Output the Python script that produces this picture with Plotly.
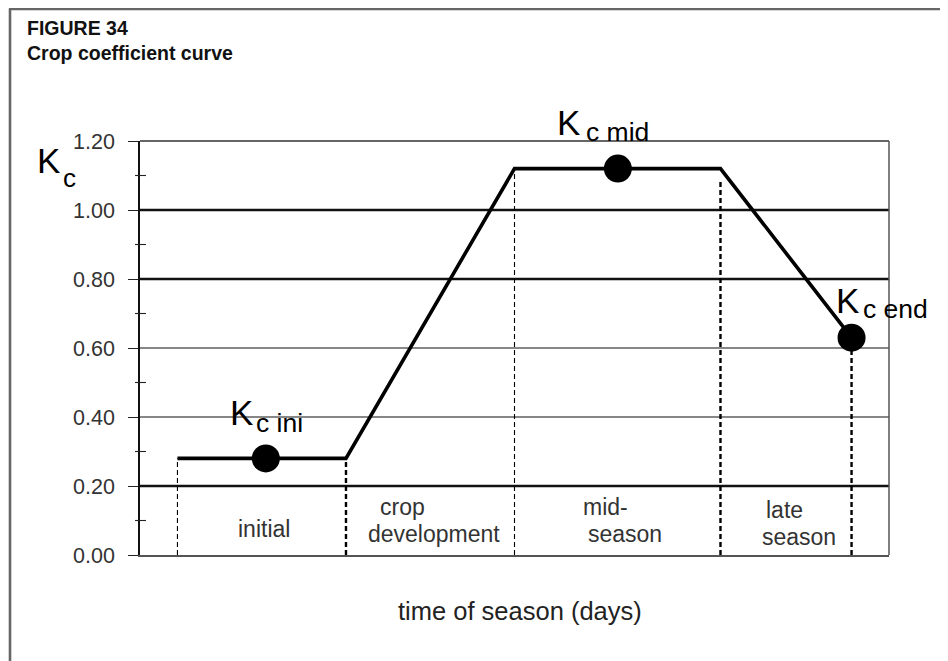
import plotly.graph_objects as go

# ---------------- data ----------------
stage_x = [5, 27.5, 50, 77.5, 95]            # days: start, end initial, end dev, end mid, end late
kc_curve = [0.28, 0.28, 1.12, 1.12, 0.63]     # Kc at those times
boundary_top = [0.28, 0.28, 1.12, 1.09, 0.63]  # top of dashed stage separators
boundary_heavy = [False, True, False, True, True]
point_x = [16.8, 63.8, 95]
point_kc = [0.28, 1.12, 0.63]
y_tickvals = [0.0, 0.2, 0.4, 0.6, 0.8, 1.0, 1.2]
y_ticktext = ["0.00", "0.20", "0.40", "0.60", "0.80", "1.00", "1.20"]
grid_y = [0.2, 0.4, 0.6, 0.8, 1.0]
grid_heavy = [True, False, False, True, True]
minor_y = [0.1, 0.3, 0.5, 0.7, 0.9, 1.1]

# ---------------- layout geometry ----------------
OX, OY = 8, 8                 # page body margin: figure's top-left on the page
W, H = 940, 653
PL, PT, PR, PB = 140, 141, 889, 555   # plot area in page pixels
ML, MT = PL - OX, PT - OY
MR = W - (PR - OX)
MB = H - (PB - OY)
PW, PH = PR - PL, PB - PT
FONT = "Liberation Sans, Arial, Helvetica, sans-serif"


def px(xp):
    return (xp - PL) / PW


def py(yp):
    return (PB - yp) / PH


fig = go.Figure()

# stage separators (dashed verticals)
for xv, top, heavy in zip(stage_x, boundary_top, boundary_heavy):
    fig.add_trace(go.Scatter(
        x=[xv, xv], y=[0, top], mode="lines",
        line=dict(color="black", width=2.4 if heavy else 1.1, dash="5px,3px"),
        hoverinfo="skip", showlegend=False))

# Kc curve
fig.add_trace(go.Scatter(
    x=stage_x, y=kc_curve, mode="lines",
    line=dict(color="black", width=3.6), showlegend=False))

# Kc points
fig.add_trace(go.Scatter(
    x=point_x, y=point_kc, mode="markers",
    marker=dict(color="black", size=28), showlegend=False))

shapes = []
# horizontal grid lines
for yv, heavy in zip(grid_y, grid_heavy):
    shapes.append(dict(type="line", xref="paper", yref="y", x0=0, x1=1, y0=yv, y1=yv,
                       line=dict(color="#111", width=2.3 if heavy else 1.1), layer="below"))
# top border and right border of plot
shapes.append(dict(type="line", xref="paper", yref="paper", x0=0, x1=1, y0=1, y1=1,
                   line=dict(color="#333", width=1.3)))
shapes.append(dict(type="line", xref="paper", yref="paper", x0=1, x1=1, y0=0, y1=1,
                   line=dict(color="#555", width=1.5)))
# minor ticks crossing the axis
for yv in minor_y:
    shapes.append(dict(type="line", xref="paper", yref="y", x0=-5 / PW, x1=6 / PW, y0=yv, y1=yv,
                       line=dict(color="#222", width=1.1)))
# outer frame (left and top)
shapes.append(dict(type="line", xref="paper", yref="paper", x0=px(10), x1=px(10), y0=py(8.5), y1=py(OY + H + 5),
                   line=dict(color="#666", width=2.6)))
shapes.append(dict(type="line", xref="paper", yref="paper", x0=px(9), x1=px(OX + W + 5), y0=py(9), y1=py(9),
                   line=dict(color="#666", width=2.4)))

annotations = []


def ann(text, xl, yb, size, anchor="left", bold=False, color="black"):
    t = f"<b>{text}</b>" if bold else text
    annotations.append(dict(
        text=t, xref="paper", yref="paper", x=px(xl), y=py(yb - 0.35 * size),
        xanchor=anchor, yanchor="middle", showarrow=False,
        font=dict(family=FONT, size=size, color=color)))


ann("FIGURE 34", 25, 35, 19.5, bold=True, color="#111")
ann("Crop coefficient curve", 25, 60, 19.5, bold=True, color="#111")
ann("time of season (days)", 520, 620, 25.5, anchor="center", color="#222")

# y-axis label K_c
ann("K", 35, 173, 35)
ann("c", 61, 187, 26)

# stage labels
SL = 23
ann("initial", 236, 537, SL, color="#333")
ann("crop", 378, 515, SL, color="#333")
ann("development", 366, 542, SL, color="#333")
ann("mid-", 581, 515, SL, color="#333")
ann("season", 586, 542, SL, color="#333")
ann("late", 764, 518, SL, color="#333")
ann("season", 760, 545, SL, color="#333")

# point labels
ann("K", 228, 425, 35)
ann("c ini", 254, 432, 26.5)
ann("K", 555, 135, 35)
ann("c mid", 584, 141, 26.5)
ann("K", 834, 313, 35)
ann("c end", 861, 318, 26.5)

fig.update_layout(
    width=W, height=H,
    margin=dict(l=ML, r=MR, t=MT, b=MB, pad=0),
    paper_bgcolor="white", plot_bgcolor="white",
    showlegend=False,
    shapes=shapes, annotations=annotations,
    font=dict(family=FONT),
    xaxis=dict(range=[0, 100], showgrid=False, zeroline=False, showticklabels=False,
               ticks="", showline=True, linecolor="#555", linewidth=2),
    yaxis=dict(range=[0, 1.2], showgrid=False, zeroline=False,
               tickvals=y_tickvals, ticktext=y_ticktext,
               ticks="outside", ticklen=10, tickwidth=1.1, tickcolor="#222",
               ticklabelstandoff=9,
               tickfont=dict(family=FONT, size=21.5, color="#333"),
               showline=True, linecolor="#111", linewidth=1.6),
)

fig.write_html("out.html")
